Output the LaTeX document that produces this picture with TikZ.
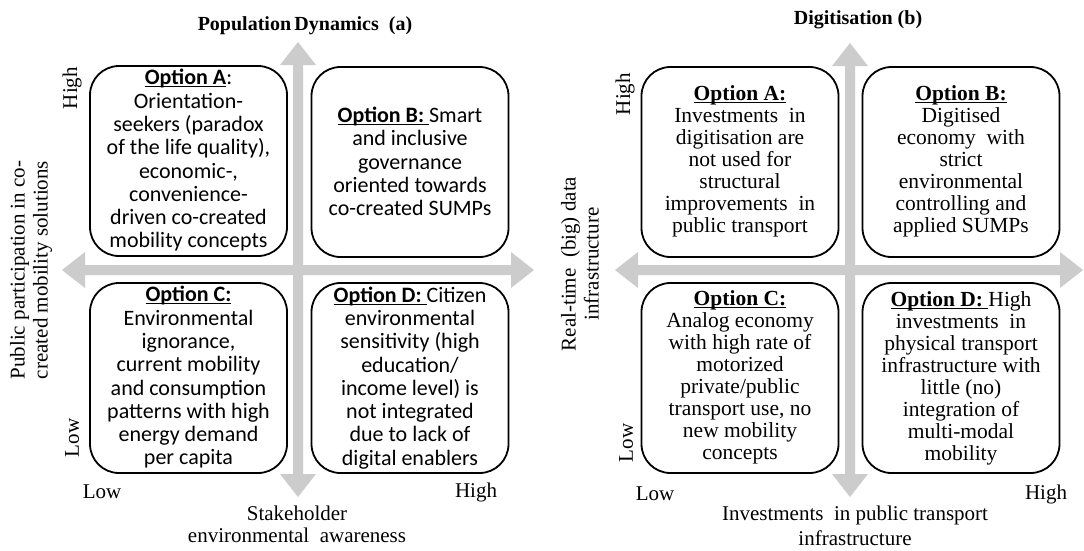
\documentclass[tikz,border=0pt]{standalone}
\usepackage{fontspec}
\setmainfont{Liberation Serif}
\newfontfamily\calibrifont{Carlito}
\usetikzlibrary{calc}
\definecolor{axisgray}{RGB}{204,204,204}
\newcommand{\optul}[1]{\underline{\vphantom{O}\smash{#1}}}
\newcommand{\haxisarrow}[2]{%
  \fill[axisgray] (#1) -- ($(#1)+(23,-18)$) -- ($(#1)+(23,-5)$) -- ($(#2)+(-23,-5)$) -- ($(#2)+(-23,-18)$) -- (#2)
    -- ($(#2)+(-23,18)$) -- ($(#2)+(-23,5)$) -- ($(#1)+(23,5)$) -- ($(#1)+(23,18)$) -- cycle;}
\newcommand{\vaxisarrow}[2]{%
  \fill[axisgray] (#1) -- ($(#1)+(18,23)$) -- ($(#1)+(5,23)$) -- ($(#2)+(5,-23)$) -- ($(#2)+(18,-23)$) -- (#2)
    -- ($(#2)+(-18,-23)$) -- ($(#2)+(-5,-23)$) -- ($(#1)+(-5,23)$) -- ($(#1)+(-18,23)$) -- cycle;}
\begin{document}
\begin{tikzpicture}[x=1pt,y=-1pt,
  optbox/.style={draw=black, line width=1.8pt, rounded corners=29pt, minimum width=197pt, minimum height=190pt, inner sep=0pt, align=center, anchor=center},
  calbox/.style={optbox, font=\calibrifont\fontsize{22}{23.3}\selectfont},
  timbox/.style={optbox, font=\fontsize{21.5}{22}\selectfont},
  lbl/.style={font=\fontsize{21}{23}\selectfont, inner sep=0pt},
  ttl/.style={font=\bfseries\fontsize{20}{24}\selectfont, inner sep=0pt}]
\useasboundingbox (0,0) rectangle (1084,550);
\fill[white] (0,0) rectangle (1084,550);
% ---------- left panel axes ----------
\coordinate (LW) at (62,270);
\coordinate (LE) at (534,270);
\coordinate (LN) at (298,42);
\coordinate (LS) at (298,497);
\haxisarrow{LW}{LE}
\vaxisarrow{LN}{LS}
% ---------- right panel axes ----------
\coordinate (RW) at (615,270);
\coordinate (RE) at (1083,270);
\coordinate (RN) at (850,43);
\coordinate (RS) at (850,497);
\haxisarrow{RW}{RE}
\vaxisarrow{RN}{RS}
% ---------- titles ----------
\node[ttl] (TL) at (305,26) {Population\,Dynamics\ \ (a)};
\node[ttl] (TR) at (858,20) {Digitisation (b)};
% ---------- left panel boxes ----------
\node[calbox] (LA) at (188.5,161) {\optul{\textbf{Option A}}:\\Orientation-\\seekers (paradox\\of the life quality),\\economic-,\\convenience-\\driven co-created\\mobility concepts};
\node[calbox] (LB) at (410,162) {\optul{\textbf{Option B:}\ }Smart\\and inclusive\\governance\\oriented towards\\co-created SUMPs};
\node[calbox] (LC) at (188.5,378) {\optul{\textbf{Option C:}}\\Environmental\\ignorance,\\current mobility\\and consumption\\patterns with high\\energy demand\\per capita};
\node[calbox] (LD) at (410,378) {\optul{\textbf{Option D:}\ }Citizen\\environmental\\sensitivity (high\\education/\\income level) is\\not integrated\\due to lack of\\digital enablers};
% ---------- left panel labels ----------
\node[lbl, rotate=90] (LHi) at (72,88) {High};
\node[lbl, rotate=90] (LLo) at (72,438) {Low};
\node[lbl] (LLow) at (102,492) {Low};
\node[lbl] (LHigh) at (476,492) {High};
\node[lbl] (LX1) at (297,513) {Stakeholder};
\node[lbl] (LX2) at (297,535) {environmental\ \ awareness};
\node[lbl, rotate=90, align=center] (LY) at (31,270) {Public participation in co-\\created mobility solutions};
% ---------- right panel boxes ----------
\node[timbox] (RA) at (740,162) {\optul{\textbf{Option A:}}\\Investments\ \ in\\digitisation are\\not used for\\structural\\improvements\ \ in\\public transport};
\node[timbox] (RB) at (961,162) {\optul{\textbf{Option B:}}\\Digitised\\economy\ \ with\\strict\\environmental\\controlling and\\applied SUMPs};
\node[timbox] (RC) at (740,378) {\optul{\textbf{Option C:}}\\Analog economy\\with high rate of\\motorized\\private/public\\transport use, no\\new mobility\\concepts};
\node[timbox] (RD) at (961,378) {\optul{\textbf{Option D:}\ }High\\investments\ \ in\\physical transport\\infrastructure with\\little (no)\\integration of\\multi-modal\\mobility};
% ---------- right panel labels ----------
\node[lbl, rotate=90] (RHi) at (625,94) {High};
\node[lbl, rotate=90] (RLo) at (626,443) {Low};
\node[lbl] (RLow) at (655,494) {Low};
\node[lbl] (RHigh) at (1046,494) {High};
\node[lbl] (RX1) at (855,515) {Investments\ \ in public transport};
\node[lbl] (RX2) at (855,538) {infrastructure};
\node[lbl, rotate=90, align=center] (RY) at (580,264) {Real-time\ \ (big) data\\infrastructure};
\end{tikzpicture}
\end{document}
